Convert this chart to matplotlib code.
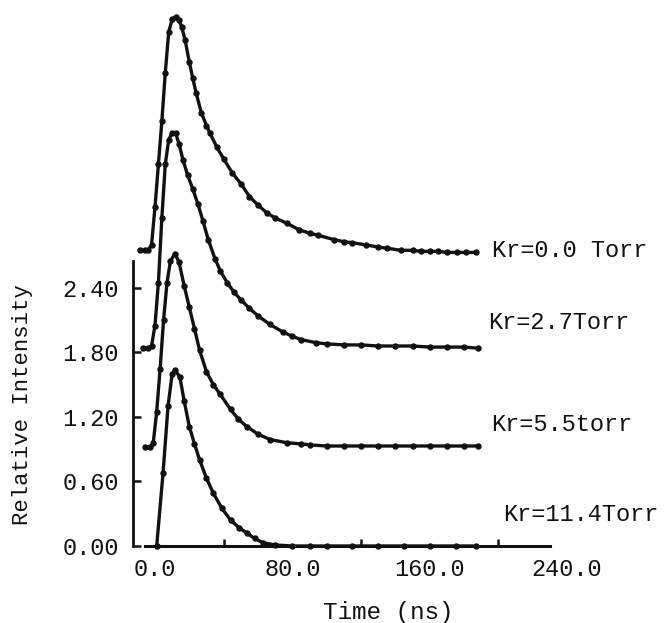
#!/usr/bin/env python3
import numpy as np
import matplotlib.pyplot as plt

# curves: time (ns), relative intensity (offset baselines)
t_00 = [-9, -6, -4, -2, 0, 2, 4, 6, 8, 10, 12, 14, 15.5, 17.5, 20, 22, 24, 27, 30, 32,
        36, 40, 45, 50, 55, 60, 65, 70, 77, 84, 90, 95, 104, 110, 115, 123, 130, 135,
        143, 150, 155, 160, 165, 170, 176, 181, 187]
v_00 = [2.75, 2.75, 2.75, 2.80, 3.15, 3.55, 3.95, 4.40, 4.78, 4.90, 4.92, 4.89, 4.83,
        4.71, 4.50, 4.35, 4.21, 4.03, 3.91, 3.84, 3.71, 3.60, 3.47, 3.37, 3.25, 3.17,
        3.10, 3.05, 3.00, 2.94, 2.91, 2.89, 2.85, 2.83, 2.82, 2.80, 2.78, 2.77, 2.75,
        2.75, 2.74, 2.74, 2.74, 2.73, 2.73, 2.73, 2.73]

t_27 = [-7, -4, -2, 0, 2, 4, 6, 8, 10, 12, 14, 16.3, 19, 22, 25, 28, 31, 35, 38, 42,
        46, 50, 55, 60, 67, 74.5, 80, 85, 94, 100, 110, 120, 130, 140, 150, 160, 170,
        180, 188]
v_27 = [1.84, 1.84, 1.86, 2.05, 2.45, 3.05, 3.55, 3.78, 3.84, 3.84, 3.74, 3.59, 3.45,
        3.32, 3.18, 3.02, 2.85, 2.67, 2.56, 2.45, 2.36, 2.29, 2.21, 2.14, 2.06, 1.99,
        1.95, 1.92, 1.89, 1.88, 1.87, 1.87, 1.86, 1.86, 1.86, 1.85, 1.85, 1.85, 1.84]

t_55 = [-6, -3, -1, 1, 3, 5, 7, 9, 11.6, 14, 17, 20, 23, 26, 30, 34, 38, 44, 48.5,
        53.5, 60, 67, 77, 85, 90, 100, 110, 120, 130, 140, 150, 160, 170, 180, 188]
v_55 = [0.92, 0.92, 0.96, 1.25, 1.65, 2.10, 2.45, 2.65, 2.72, 2.64, 2.42, 2.22, 2.02,
        1.82, 1.62, 1.50, 1.41, 1.27, 1.18, 1.11, 1.04, 0.99, 0.96, 0.95, 0.94, 0.93,
        0.93, 0.93, 0.93, 0.93, 0.93, 0.93, 0.93, 0.93, 0.93]

t_114 = [1, 4.7, 7.6, 10, 11.6, 14.5, 17, 20, 23, 26, 30, 34, 39, 44, 49, 53.5, 58,
         63, 70, 80, 90, 100, 115, 130, 145, 160, 175, 187]
v_114 = [0.0, 0.68, 1.30, 1.60, 1.64, 1.57, 1.35, 1.11, 0.95, 0.80, 0.63, 0.49, 0.35,
         0.24, 0.17, 0.12, 0.07, 0.03, 0.01, 0.0, 0.0, 0.0, 0.0, 0.0, 0.0, 0.0, 0.0, 0.0]

labels = ["Kr=0.0 Torr", "Kr=2.7Torr", "Kr=5.5torr", "Kr=11.4Torr"]
label_pos = [(196, 2.75), (194, 2.08), (196, 1.13), (203, 0.29)]

yticks = [0.0, 0.6, 1.2, 1.8, 2.4]
xticks = [0, 80, 160, 240]
xminor = [40, 120, 200]

ink = '#111111'
font = 'Liberation Mono'

fig = plt.figure(figsize=(6.7, 6.23), dpi=100)
ax = fig.add_axes([0.1985, 0.1236, 0.6608, 0.8716])

for t, v in [(t_00, v_00), (t_27, v_27), (t_55, v_55), (t_114, v_114)]:
    ax.plot(t, v, '-o', color=ink, lw=2.4, markersize=3.6, clip_on=False)

for lab, (x, y) in zip(labels, label_pos):
    ax.text(x, y, lab, fontsize=17, family=font, color=ink, ha='left', va='center')

ax.set_xlim(-12.8, 245)
ax.set_ylim(0, 5.05)

for s in ['top', 'right']:
    ax.spines[s].set_visible(False)
ax.spines['left'].set_bounds(0, 2.65)
ax.spines['bottom'].set_bounds(-6, 230)
ax.spines['left'].set_linewidth(2.0)
ax.spines['bottom'].set_linewidth(2.2)
ax.spines['left'].set_color(ink)
ax.spines['bottom'].set_color(ink)

ax.set_yticks(yticks)
ax.set_yticklabels(['%.2f' % y for y in yticks])
ax.set_xticks(xticks)
ax.set_xticklabels(['%.1f' % x for x in xticks])
ax.set_xticks(xminor, minor=True)

ax.tick_params(axis='y', direction='in', length=6, width=1.8, pad=10,
               labelsize=17, colors=ink)
ax.tick_params(axis='x', which='major', length=0, pad=9, labelsize=17, colors=ink)
ax.tick_params(axis='x', which='minor', direction='in', length=5, width=1.8, colors=ink)
for lab in ax.get_xticklabels() + ax.get_yticklabels():
    lab.set_family(font)

fig.text(388 / 670, 1 - 612 / 623, 'Time (ns)', fontsize=17.5, family=font,
         color=ink, ha='center', va='center')
fig.text(23 / 670, 1 - 405 / 623, 'Relative Intensity', fontsize=16, family=font,
         color=ink, ha='center', va='center', rotation=90)

plt.savefig('out.png', dpi=100)
